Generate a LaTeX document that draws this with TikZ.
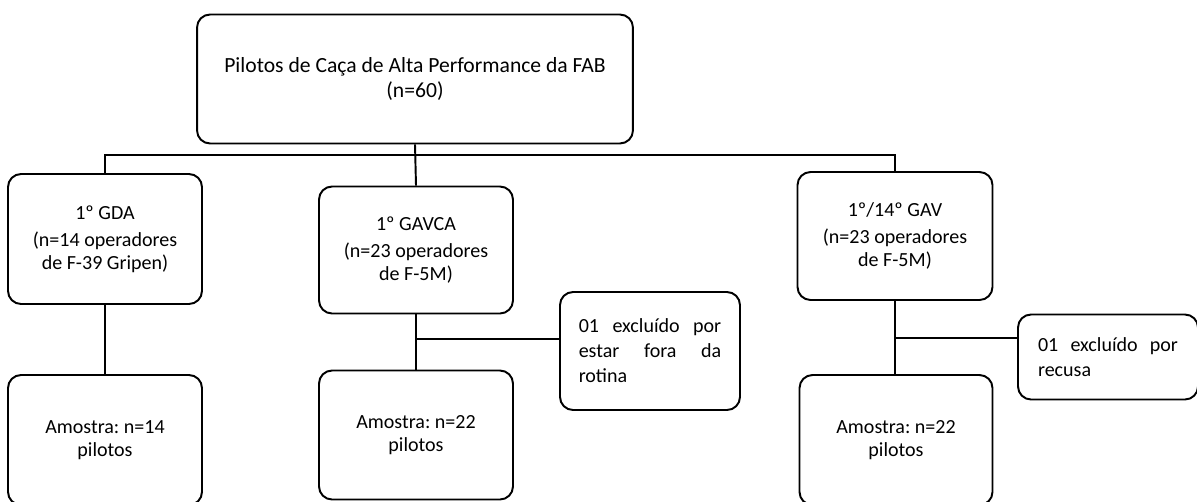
\documentclass[tikz,border=0pt]{standalone}
\usepackage{fontspec}
\setmainfont{Carlito}
\frenchspacing
\hyphenpenalty=10000
\exhyphenpenalty=10000
\tolerance=9999
\begin{document}
\begin{tikzpicture}[x=0.02cm,y=-0.02cm,
    caixa/.style={draw, line width=1.1pt, rounded corners=0.26cm, align=center, inner sep=0pt, font=\fontsize{11.4}{12.8}\selectfont},
    nota/.style={caixa, align=justify, text width=2.85cm, minimum width=3.6cm, font=\fontsize{11.4}{14.2}\selectfont},
    linha/.style={line width=1.1pt},
    fino/.style={line width=0.6pt}]
    \useasboundingbox (0,0) rectangle (1197,501);
    % topo
    \node[caixa, minimum width=8.72cm, minimum height=2.58cm, font=\fontsize{12.3}{14}\selectfont] (fab) at (415,79) {Pilotos de Caça de Alta Performance da FAB\\(n=60)};
    % esquadroes
    \node[caixa, minimum width=3.88cm, minimum height=2.6cm] (gda) at (105,239) {1º GDA\\[2.6pt](n=14 operadores\\de F-39 Gripen)};
    \node[caixa, minimum width=3.88cm, minimum height=2.54cm] (gavca) at (416,250) {1º GAVCA\\[2.6pt](n=23 operadores\\de F-5M)};
    \node[caixa, minimum width=3.9cm, minimum height=2.56cm] (gav) at (895,236) {1º/14º GAV\\[2.6pt](n=23 operadores\\de F-5M)};
    % amostras
    \node[caixa, minimum width=3.88cm, minimum height=2.6cm] (amL) at (105,440) {Amostra: n=14\\pilotos};
    \node[caixa, minimum width=3.88cm, minimum height=2.58cm] (amM) at (416,435) {Amostra: n=22\\pilotos};
    \node[caixa, minimum width=3.86cm, minimum height=2.6cm] (amR) at (896,440) {Amostra: n=22\\pilotos};
    % exclusoes
    \node[nota, minimum height=2.36cm] (ex1) at (650,351) {01 excluído por estar fora da rotina};
    \node[nota, minimum height=1.7cm, text width=2.8cm] (ex2) at (1108,357) {01 excluído por recusa};
    % ligacoes
    \coordinate (bus) at (416,155);
    \coordinate (r1) at (416,339);
    \coordinate (r2) at (895,338);
    \draw[linha] (fab.south) -- (gavca.north);
    \draw[linha] (gda.north) |- (bus) -| (gav.north);
    \draw[linha] (gda.south) -- (amL.north);
    \draw[linha] (gavca.south) -- (amM.north);
    \draw[linha] (gav.south) -- (gav.south |- amR.north);
    \draw[fino] (r1) -- (r1 -| ex1.west);
    \draw[fino] (r2) -- (r2 -| ex2.west);
\end{tikzpicture}
\end{document}
